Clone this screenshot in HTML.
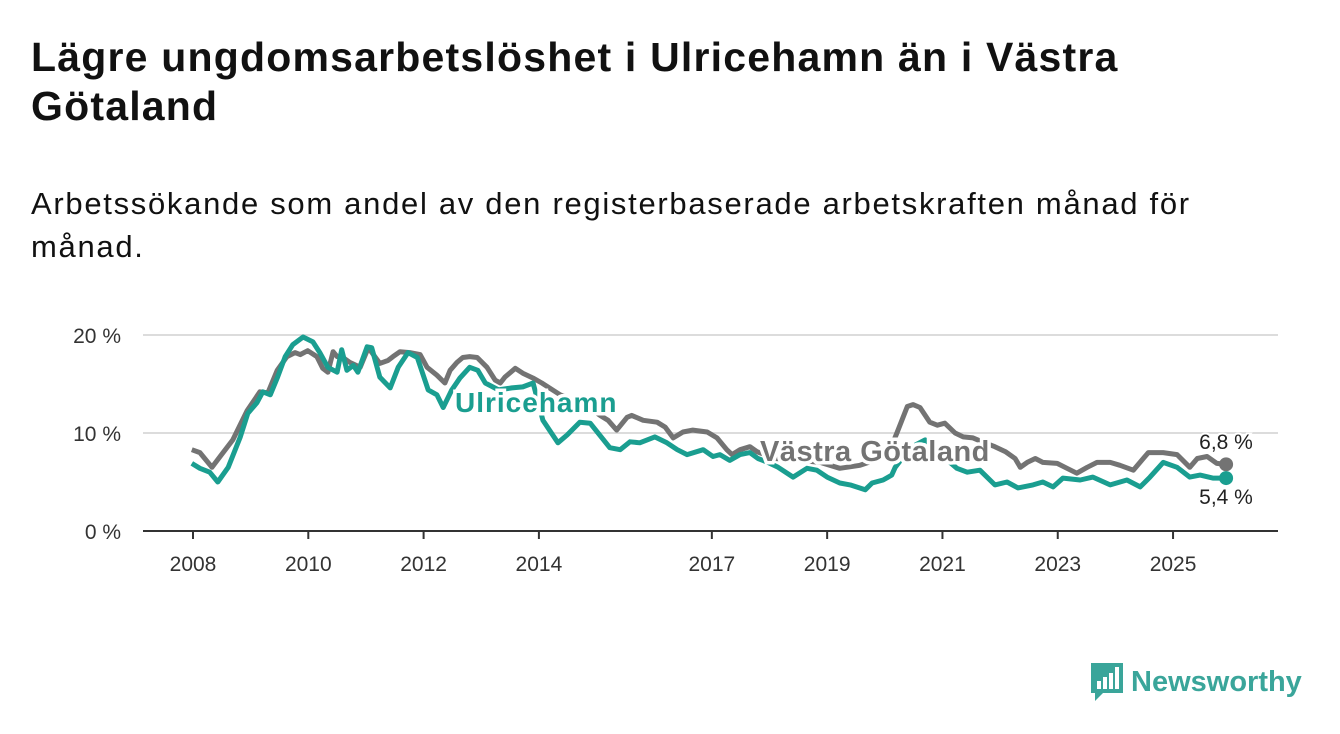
<!DOCTYPE html>
<html><head><meta charset="utf-8"><style>
body{margin:0;background:#fff;width:1340px;height:734px;overflow:hidden;font-family:"Liberation Sans","DejaVu Sans",sans-serif;color:#111}
h1{position:absolute;left:31px;top:33px;margin:0;font-size:41px;letter-spacing:1.2px;line-height:49px;font-weight:bold;width:1280px}
.sub{position:absolute;left:31px;top:182px;font-size:31px;letter-spacing:1.7px;line-height:43px;width:1280px}
</style></head><body>
<h1>Lägre ungdomsarbetslöshet i Ulricehamn än i Västra<br>Götaland</h1>
<div class="sub">Arbetssökande som andel av den registerbaserade arbetskraften månad för<br>månad.</div>
<svg id="chart" width="1340" height="734" style="position:absolute;left:0;top:0"></svg>
<div style="position:absolute;left:1089px;top:661px;display:flex;align-items:center">
<svg width="36" height="42"><path d="M2 2h32v30H14l-8 8v-8H2z" fill="#3aa59a"/><rect x="8" y="20" width="4" height="8" fill="#fff"/><rect x="14" y="16" width="4" height="12" fill="#fff"/><rect x="20" y="12" width="4" height="16" fill="#fff"/><rect x="26" y="6" width="4" height="22" fill="#fff"/></svg>
<span style="font-size:29px;color:#3aa59a;font-weight:bold;margin-left:6px">Newsworthy</span></div>
<script>
const yTicks=[0,10,20];
const yTickLabels=["0 %","10 %","20 %"];
const xTicks=[2008,2010,2012,2014,2017,2019,2021,2023,2025];
const vgDates=[2007.98,2008.12,2008.33,2008.47,2008.69,2008.94,2009.16,2009.30,2009.46,2009.63,2009.77,2009.86,2009.99,2010.15,2010.25,2010.34,2010.43,2010.50,2010.58,2010.72,2010.90,2011.04,2011.24,2011.38,2011.47,2011.59,2011.76,2011.94,2012.06,2012.23,2012.37,2012.46,2012.58,2012.68,2012.80,2012.93,2013.10,2013.24,2013.33,2013.41,2013.59,2013.72,2013.90,2014.05,2014.37,2014.80,2015.06,2015.20,2015.35,2015.53,2015.61,2015.81,2016.05,2016.19,2016.33,2016.50,2016.67,2016.92,2017.09,2017.26,2017.35,2017.49,2017.66,2017.78,2018.10,2018.53,2018.88,2019.22,2019.57,2019.92,2020.09,2020.21,2020.39,2020.49,2020.61,2020.78,2020.91,2021.04,2021.22,2021.36,2021.53,2021.69,2021.91,2022.09,2022.26,2022.35,2022.47,2022.61,2022.74,2022.99,2023.16,2023.33,2023.51,2023.68,2023.91,2024.08,2024.31,2024.57,2024.83,2025.07,2025.29,2025.42,2025.59,2025.76,2025.92];
const vgValues=[8.3,8.0,6.5,7.6,9.3,12.3,14.2,14.1,16.4,17.8,18.2,18.0,18.4,17.8,16.6,16.2,18.3,17.8,17.8,17.2,16.7,18.7,17.1,17.4,17.8,18.3,18.2,18.0,16.7,15.9,15.1,16.4,17.2,17.7,17.8,17.7,16.7,15.4,15.1,15.7,16.6,16.1,15.6,15.1,13.9,12.9,11.8,11.3,10.3,11.6,11.8,11.3,11.1,10.6,9.5,10.1,10.3,10.1,9.5,8.3,7.8,8.3,8.6,8.1,7.4,7.2,7.0,6.4,6.7,7.4,8.3,10.0,12.7,12.9,12.6,11.1,10.8,11.0,10.0,9.6,9.5,9.1,8.6,8.1,7.4,6.5,7.0,7.4,7.0,6.9,6.4,5.9,6.5,7.0,7.0,6.7,6.2,8.0,8.0,7.8,6.5,7.4,7.6,6.9,6.8];
const ulDates=[2007.98,2008.12,2008.29,2008.43,2008.61,2008.82,2008.95,2009.11,2009.21,2009.34,2009.46,2009.60,2009.73,2009.91,2010.08,2010.20,2010.34,2010.50,2010.58,2010.67,2010.78,2010.86,2011.02,2011.10,2011.24,2011.42,2011.56,2011.73,2011.89,2012.08,2012.23,2012.34,2012.49,2012.63,2012.80,2012.94,2013.07,2013.30,2013.53,2013.72,2013.90,2014.07,2014.33,2014.49,2014.71,2014.89,2015.23,2015.41,2015.58,2015.75,2016.01,2016.22,2016.40,2016.57,2016.85,2017.02,2017.14,2017.31,2017.49,2017.66,2017.80,2017.97,2018.15,2018.41,2018.65,2018.82,2019.00,2019.22,2019.40,2019.66,2019.78,2019.97,2020.12,2020.18,2020.44,2020.70,2020.96,2021.13,2021.25,2021.43,2021.65,2021.91,2022.12,2022.31,2022.57,2022.74,2022.92,2023.09,2023.39,2023.61,2023.91,2024.20,2024.43,2024.60,2024.83,2025.07,2025.29,2025.47,2025.69,2025.92];
const ulValues=[6.9,6.4,6.0,5.0,6.5,9.6,12.0,13.1,14.2,13.9,15.6,17.8,19.0,19.8,19.3,18.2,16.7,16.2,18.5,16.4,16.9,16.2,18.8,18.7,15.7,14.6,16.7,18.2,17.7,14.4,13.9,12.6,14.4,15.6,16.7,16.4,15.1,14.4,14.6,14.7,15.1,11.3,9.0,9.8,11.1,11.0,8.5,8.3,9.1,9.0,9.6,9.0,8.3,7.8,8.3,7.6,7.8,7.2,7.8,8.0,7.4,7.0,6.5,5.5,6.4,6.2,5.5,4.9,4.7,4.2,4.9,5.2,5.7,6.5,8.5,9.3,8.1,7.0,6.4,6.0,6.2,4.7,5.0,4.4,4.7,5.0,4.5,5.4,5.2,5.5,4.7,5.2,4.5,5.5,7.0,6.5,5.5,5.7,5.4,5.4];
const NS="http://www.w3.org/2000/svg";
const svg=document.getElementById('chart');
const X=y=>193+(y-2008)*57.65;
const Y=v=>531-v*9.8;
function mk(t,a){const e=document.createElementNS(NS,t);for(const k in a)e.setAttribute(k,a[k]);svg.appendChild(e);return e;}
yTicks.forEach((t,i)=>{
  if(t>0){const g=mk('line',{x1:143,x2:1278,y1:Y(t),y2:Y(t),stroke:'#dcdcdc','stroke-width':2});
  
  }
  const l=mk('text',{x:121,y:Y(t)+8,'text-anchor':'end','font-size':21,fill:'#333'});
  l.textContent=yTickLabels[i];
  
  
});
const ax=mk('line',{x1:143,x2:1278,y1:531,y2:531,stroke:'#333','stroke-width':2});


xTicks.forEach(t=>{
  const k=mk('line',{x1:X(t),x2:X(t),y1:531,y2:539,stroke:'#333','stroke-width':2});
  
  
  const l=mk('text',{x:X(t),y:571,'text-anchor':'middle','font-size':21,fill:'#333'});
  l.textContent=t;
  
  
});
function line(d,v,c,name){
  const p=mk('path',{d:d.map((x,i)=>(i?'L':'M')+X(x).toFixed(1)+','+Y(v[i]).toFixed(1)).join(''),fill:'none',stroke:c,'stroke-width':5,'stroke-linejoin':'round'});
  
  
  const n=d.length-1;
  const dot=mk('circle',{cx:X(d[n]),cy:Y(v[n]),r:7,fill:c});
  
  
}
line(vgDates,vgValues,'#737373','vastra-gotaland-line');
line(ulDates,ulValues,'#1a9e90','ulricehamn-line');
function lab(txt,x,y,c,sz,bold,name,anchor,ls){
  const t=mk('text',{x:x,y:y,fill:c,'font-size':sz,'font-weight':bold?'bold':'normal','text-anchor':anchor||'start','letter-spacing':ls||0,stroke:'#fff','stroke-width':bold?7:4,'paint-order':'stroke'});
  t.textContent=txt;
  
  
}
lab('Ulricehamn',455,412,'#1a9e90',28,true,'ulricehamn-label','start',1);
lab('Västra Götaland',760,461,'#737373',29,true,'vastra-gotaland-label','start',0.5);
lab('6,8 %',1226,449,'#222',21,false,'vg-end-value','middle');
lab('5,4 %',1226,504,'#222',21,false,'ul-end-value','middle');
</script>
</body></html>
